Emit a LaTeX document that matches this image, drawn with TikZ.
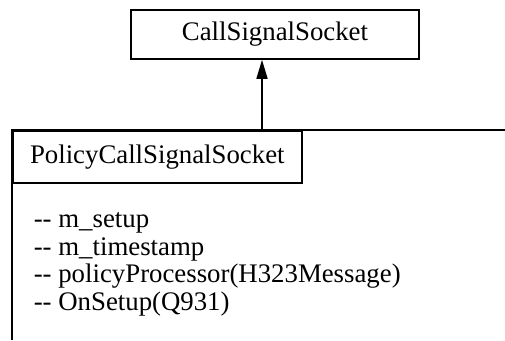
\documentclass[tikz,border=0pt]{standalone}
\usepackage{fontspec}
\setmainfont{Liberation Serif}
\usetikzlibrary{arrows.meta}
\newcommand\umldash{-\kern0pt-}

\begin{document}
\begin{tikzpicture}[
    x=1pt,y=-1pt,
    line width=1.6pt,
    umltext/.style={font=\fontsize{26.8}{27.4}\selectfont},
    classbox/.style={draw,umltext,inner sep=0pt,minimum width=288pt,minimum height=49pt},
    tabbox/.style={draw,umltext,inner sep=0pt,minimum width=289pt,minimum height=52pt},
]
    \useasboundingbox (0,0) rectangle (505,340);
    \node[classbox] (base) at (275,34.5) {CallSignalSocket};
    \coordinate (pkgtl) at (12,130);
    \coordinate (pkgtr) at (505,130);
    \coordinate (pkgbl) at (12,340);
    \coordinate (inh) at (262,130);
    \node[tabbox,anchor=north west] (pkg) at (pkgtl) {PolicyCallSignalSocket};
    \draw (pkgtr) -- (pkgtl) -- (pkgbl);
    \draw[-{Triangle[length=19pt,width=11pt]}] (inh) -- (inh |- base.south);
    \node[umltext,anchor=north west,align=left,inner sep=0pt] (members) at (33,212)
        {\umldash{} m\_setup\\
         \umldash{} m\_timestamp\\
         \umldash{} policyProcessor(H323Message)\\
         \umldash{} OnSetup(Q931)};
\end{tikzpicture}
\end{document}
